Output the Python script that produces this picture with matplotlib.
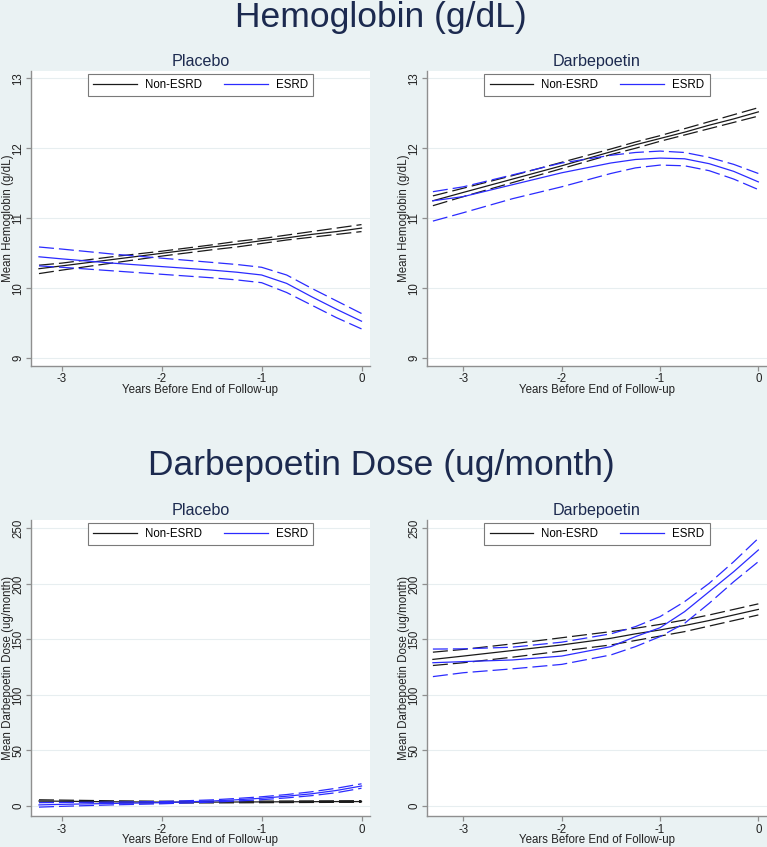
import matplotlib
matplotlib.use('Agg')
import matplotlib.pyplot as plt
from matplotlib.lines import Line2D

plt.rcParams['font.family'] = ['Liberation Sans', 'DejaVu Sans']
plt.rcParams['axes.unicode_minus'] = False
plt.rcParams['lines.scale_dashes'] = False

# x positions (years before end of follow-up)
years_left = [-3.23, -3, -2.5, -2, -1.5, -1.25, -1, -0.75, -0.5, -0.25, 0]
years_right = [-3.31, -3, -2.5, -2, -1.5, -1.25, -1, -0.75, -0.5, -0.25, 0]

# Hemoglobin, placebo
hb_pla_non = [10.28, 10.32, 10.41, 10.50, 10.59, 10.63, 10.68, 10.72, 10.77, 10.81, 10.86]
hb_pla_non_hi = [10.33, 10.36, 10.45, 10.53, 10.62, 10.67, 10.71, 10.76, 10.81, 10.86, 10.91]
hb_pla_non_lo = [10.21, 10.26, 10.36, 10.46, 10.55, 10.59, 10.64, 10.69, 10.73, 10.77, 10.81]
hb_pla_esrd = [10.45, 10.42, 10.36, 10.31, 10.26, 10.23, 10.19, 10.07, 9.88, 9.70, 9.53]
hb_pla_esrd_hi = [10.59, 10.56, 10.49, 10.43, 10.37, 10.34, 10.30, 10.19, 10.00, 9.82, 9.64]
hb_pla_esrd_lo = [10.32, 10.30, 10.25, 10.20, 10.15, 10.12, 10.08, 9.94, 9.76, 9.58, 9.42]

# Hemoglobin, darbepoetin
hb_dar_non = [11.25, 11.37, 11.56, 11.75, 11.95, 12.05, 12.14, 12.23, 12.33, 12.42, 12.52]
hb_dar_non_hi = [11.32, 11.43, 11.61, 11.80, 11.99, 12.09, 12.18, 12.28, 12.38, 12.48, 12.58]
hb_dar_non_lo = [11.18, 11.31, 11.51, 11.71, 11.91, 12.00, 12.10, 12.19, 12.28, 12.37, 12.46]
hb_dar_esrd = [11.25, 11.31, 11.48, 11.65, 11.79, 11.84, 11.86, 11.85, 11.78, 11.67, 11.52]
hb_dar_esrd_hi = [11.38, 11.45, 11.62, 11.79, 11.90, 11.94, 11.96, 11.94, 11.87, 11.77, 11.64]
hb_dar_esrd_lo = [10.96, 11.08, 11.28, 11.45, 11.64, 11.72, 11.76, 11.75, 11.68, 11.56, 11.41]

# Darbepoetin dose, placebo
dose_pla_non = [4.5, 4.3, 3.8, 3.5, 3.5, 3.6, 3.7, 3.8, 3.9, 4.0, 4.0]
dose_pla_non_hi = [5.6, 5.3, 4.7, 4.3, 4.2, 4.3, 4.4, 4.5, 4.6, 4.7, 4.8]
dose_pla_non_lo = [3.4, 3.3, 2.9, 2.7, 2.8, 2.9, 3.0, 3.1, 3.2, 3.3, 3.3]
dose_pla_esrd = [1.0, 1.5, 2.3, 3.0, 4.5, 5.6, 7.0, 8.8, 11.0, 14.0, 18.0]
dose_pla_esrd_hi = [3.0, 3.2, 3.5, 4.0, 5.5, 6.8, 8.3, 10.3, 12.8, 16.0, 20.0]
dose_pla_esrd_lo = [-1.0, -0.3, 1.0, 2.0, 3.5, 4.5, 5.7, 7.3, 9.3, 12.0, 16.0]

# Darbepoetin dose, darbepoetin
dose_dar_non = [132, 135, 140, 145, 151, 155, 158.5, 162.5, 167, 172, 177]
dose_dar_non_hi = [138.5, 141, 146, 151.5, 157, 160, 163.5, 167.5, 172, 177, 182]
dose_dar_non_lo = [126.5, 129, 134, 139.5, 145, 149, 153, 157, 162, 167, 172]
dose_dar_esrd = [129, 130, 131.5, 135, 143.5, 152.5, 160.5, 175, 193, 211, 230.5]
dose_dar_esrd_hi = [141.3, 141.5, 143, 147.5, 155, 161.5, 170.5, 184, 200.5, 220, 241]
dose_dar_esrd_lo = [116.5, 120, 123.5, 127.5, 136, 143.5, 152.5, 164.5, 182.5, 202, 220]

x_ticks = [-3, -2, -1, 0]
hb_ticks = [9, 10, 11, 12, 13]
dose_ticks = [0, 50, 100, 150, 200, 250]

BG = '#eaf2f3'
NAVY = '#1c2a4f'
BLACK = '#1a1a1a'
BLUE = '#2b2bff'
AXC = '#8f8f8f'
DASH = (10.8, 3.6)
LW = 0.9

fig = plt.figure(figsize=(7.67, 8.47), dpi=100, facecolor=BG)

W, H = 767, 847


def make_ax(x0, x1, y0, y1):
    return fig.add_axes([x0 / W, 1 - y1 / H, (x1 - x0) / W, (y1 - y0) / H])


def draw_panel(ax, years, non, non_hi, non_lo, esrd, esrd_hi, esrd_lo,
               title, ylabel, xlim, ylim, yticks):
    ax.set_facecolor('white')
    for s in ['top', 'right']:
        ax.spines[s].set_visible(False)
    for s in ['left', 'bottom']:
        ax.spines[s].set_color(AXC)
        ax.spines[s].set_linewidth(1.0)
    ax.set_axisbelow(True)
    ax.yaxis.grid(True, color='#e7eef0', linewidth=0.8)

    ax.plot(years, non, color=BLACK, lw=LW)
    ax.plot(years, non_hi, color=BLACK, lw=LW, dashes=DASH)
    ax.plot(years, non_lo, color=BLACK, lw=LW, dashes=DASH)
    ax.plot(years, esrd, color=BLUE, lw=LW)
    ax.plot(years, esrd_hi, color=BLUE, lw=LW, dashes=DASH)
    ax.plot(years, esrd_lo, color=BLUE, lw=LW, dashes=DASH)

    ax.set_xlim(*xlim)
    ax.set_ylim(*ylim)
    ax.set_xticks(x_ticks)
    ax.set_yticks(yticks)
    ax.tick_params(axis='both', colors=AXC, length=3.6, width=0.9,
                   labelsize=8.3, labelcolor='#222222')
    ax.tick_params(axis='x', pad=1.8)
    ax.tick_params(axis='y', pad=1.4, labelrotation=90)
    for lab in ax.get_yticklabels():
        lab.set_va('center')

    ax.set_title(title, fontsize=11.6, color=NAVY, pad=3.5)
    ax.set_ylabel(ylabel, fontsize=8.3, color='#222222')
    ax.yaxis.set_label_coords(-0.051, 0.5)
    ax.set_xlabel('Years Before End of Follow-up', fontsize=8.3, color='#222222')
    ax.xaxis.set_label_coords(0.5, -0.062)

    handles = [Line2D([], [], color=BLACK, lw=LW), Line2D([], [], color=BLUE, lw=LW)]
    leg = ax.legend(handles, ['Non-ESRD', 'ESRD'], loc='upper center', ncol=2,
                    fontsize=8.3, frameon=True, fancybox=False, framealpha=1,
                    edgecolor='#7a7a7a', handlelength=3.8, handletextpad=0.7,
                    columnspacing=1.9, borderpad=0.45, borderaxespad=0.25)
    leg.get_frame().set_linewidth(0.8)


ax1 = make_ax(31, 370, 71, 366)
ax2 = make_ax(427, 767, 71, 366)
ax3 = make_ax(31, 370, 520, 816)
ax4 = make_ax(427, 767, 520, 816)

hb_ylim = (8.89, 13.104)
dose_ylim = (-9, 257.5)
xl_left = (-3.31, 0.085)
xl_right = (-3.37, 0.088)

draw_panel(ax1, years_left, hb_pla_non, hb_pla_non_hi, hb_pla_non_lo,
           hb_pla_esrd, hb_pla_esrd_hi, hb_pla_esrd_lo,
           'Placebo', 'Mean Hemoglobin (g/dL)', xl_left, hb_ylim, hb_ticks)
draw_panel(ax2, years_right, hb_dar_non, hb_dar_non_hi, hb_dar_non_lo,
           hb_dar_esrd, hb_dar_esrd_hi, hb_dar_esrd_lo,
           'Darbepoetin', 'Mean Hemoglobin (g/dL)', xl_right, hb_ylim, hb_ticks)
draw_panel(ax3, years_left, dose_pla_non, dose_pla_non_hi, dose_pla_non_lo,
           dose_pla_esrd, dose_pla_esrd_hi, dose_pla_esrd_lo,
           'Placebo', 'Mean Darbepoetin Dose (ug/month)', xl_left, dose_ylim, dose_ticks)
draw_panel(ax4, years_right, dose_dar_non, dose_dar_non_hi, dose_dar_non_lo,
           dose_dar_esrd, dose_dar_esrd_hi, dose_dar_esrd_lo,
           'Darbepoetin', 'Mean Darbepoetin Dose (ug/month)', xl_right, dose_ylim, dose_ticks)

fig.text(0.497, 1 - 27 / H, 'Hemoglobin (g/dL)', fontsize=25.5, color=NAVY,
         ha='center', va='baseline')
fig.text(0.497, 1 - 475 / H, 'Darbepoetin Dose (ug/month)', fontsize=25.5, color=NAVY,
         ha='center', va='baseline')

fig.savefig('out.png', dpi=100, facecolor=BG)
